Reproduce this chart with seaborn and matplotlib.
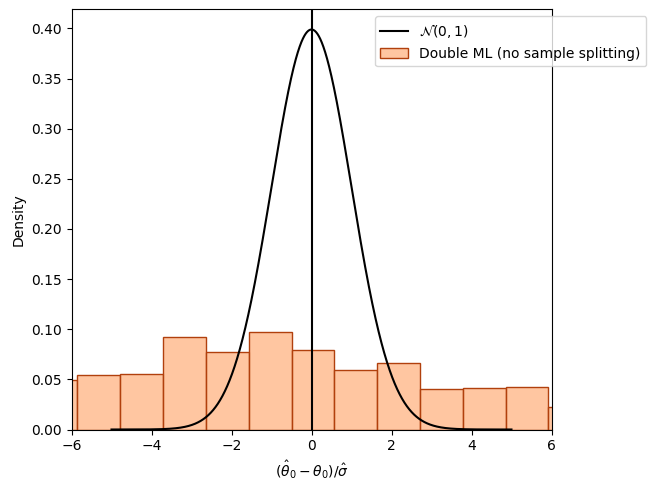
import numpy as np
import matplotlib
matplotlib.use("Agg")
import matplotlib.pyplot as plt
import seaborn as sns

# Histogram data (density per bin)
bin_edges = [-6.93, -5.86, -4.79, -3.72, -2.65, -1.57, -0.50, 0.57,
             1.64, 2.71, 3.78, 4.85, 5.92, 6.99]
bin_density = [0.049, 0.054, 0.055, 0.092, 0.077, 0.097, 0.079,
               0.059, 0.066, 0.040, 0.041, 0.042, 0.022]
hist_label = "Double ML (no sample splitting)"
norm_label = r"$\mathcal{N}(0, 1)$"

bin_centers = [(a + b) / 2 for a, b in zip(bin_edges[:-1], bin_edges[1:])]

face_colors = sns.color_palette("pastel")
edge_colors = sns.color_palette("dark")

W, H = 652, 491
fig = plt.figure(figsize=(W / 100, H / 100), dpi=100)
ax = fig.add_axes([71.5 / W, (H - 429.5) / H, 480 / W, 420 / H])
sns.histplot(x=bin_centers, weights=bin_density, bins=bin_edges, stat="count",
             color=face_colors[1], edgecolor=edge_colors[1], label=hist_label, ax=ax)
ax.axvline(0., color="k")
xx = np.arange(-5, 5, 0.001)
yy = np.exp(-xx ** 2 / 2) / np.sqrt(2 * np.pi)
ax.plot(xx, yy, color="k", label=norm_label)
ax.legend(loc="upper right", bbox_to_anchor=(1.212, 1.0))
ax.set_xlim([-6., 6.])
ax.set_ylabel("Density")
ax.set_xlabel(r"$(\hat{\theta}_0 - \theta_0)/\hat{\sigma}$")
fig.savefig("out.png", dpi=100)
